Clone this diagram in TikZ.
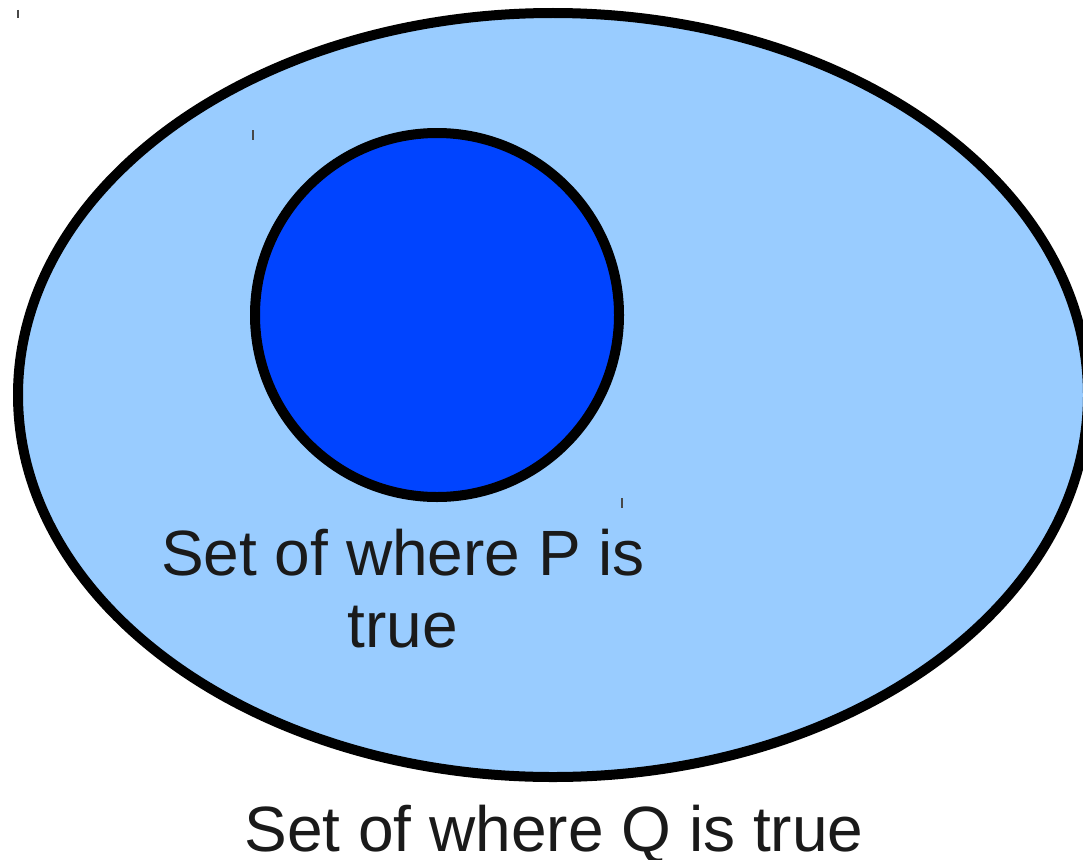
\documentclass[tikz,border=0pt]{standalone}
\usepackage{fontspec}
\setmainfont{Liberation Sans}
\definecolor{lightset}{RGB}{153,204,255}
\definecolor{darkset}{RGB}{0,68,255}
\definecolor{txt}{RGB}{26,26,26}
\tikzset{
  setshape/.style={draw=black, line width=10pt},
  tick/.style={draw=txt!80, line width=1.8pt},
  lbl/.style={text=txt, font=\fontsize{64}{72}\selectfont, align=center, inner sep=0pt}
}
\begin{document}
\begin{tikzpicture}[x=1pt,y=-1pt]
\useasboundingbox (0,0) rectangle (1083,859);
\begin{scope}
\clip (0,0) rectangle (1083,859);
\fill[white] (0,0) rectangle (1083,859);
\path[setshape, fill=lightset] (553,395) ellipse [x radius=535, y radius=382];
\end{scope}
\path[setshape, fill=darkset] (437,315) circle [radius=182];
\draw[tick] (18,10) -- (18,18);
\draw[tick] (253,130) -- (253,140);
\draw[tick] (622,498) -- (622,508);
\node[lbl, anchor=base] (p) at (403,647) {Set of where P is\\true};
\node[lbl, anchor=base] (q) at (554,851) {Set of where Q is true};
\end{tikzpicture}
\end{document}
